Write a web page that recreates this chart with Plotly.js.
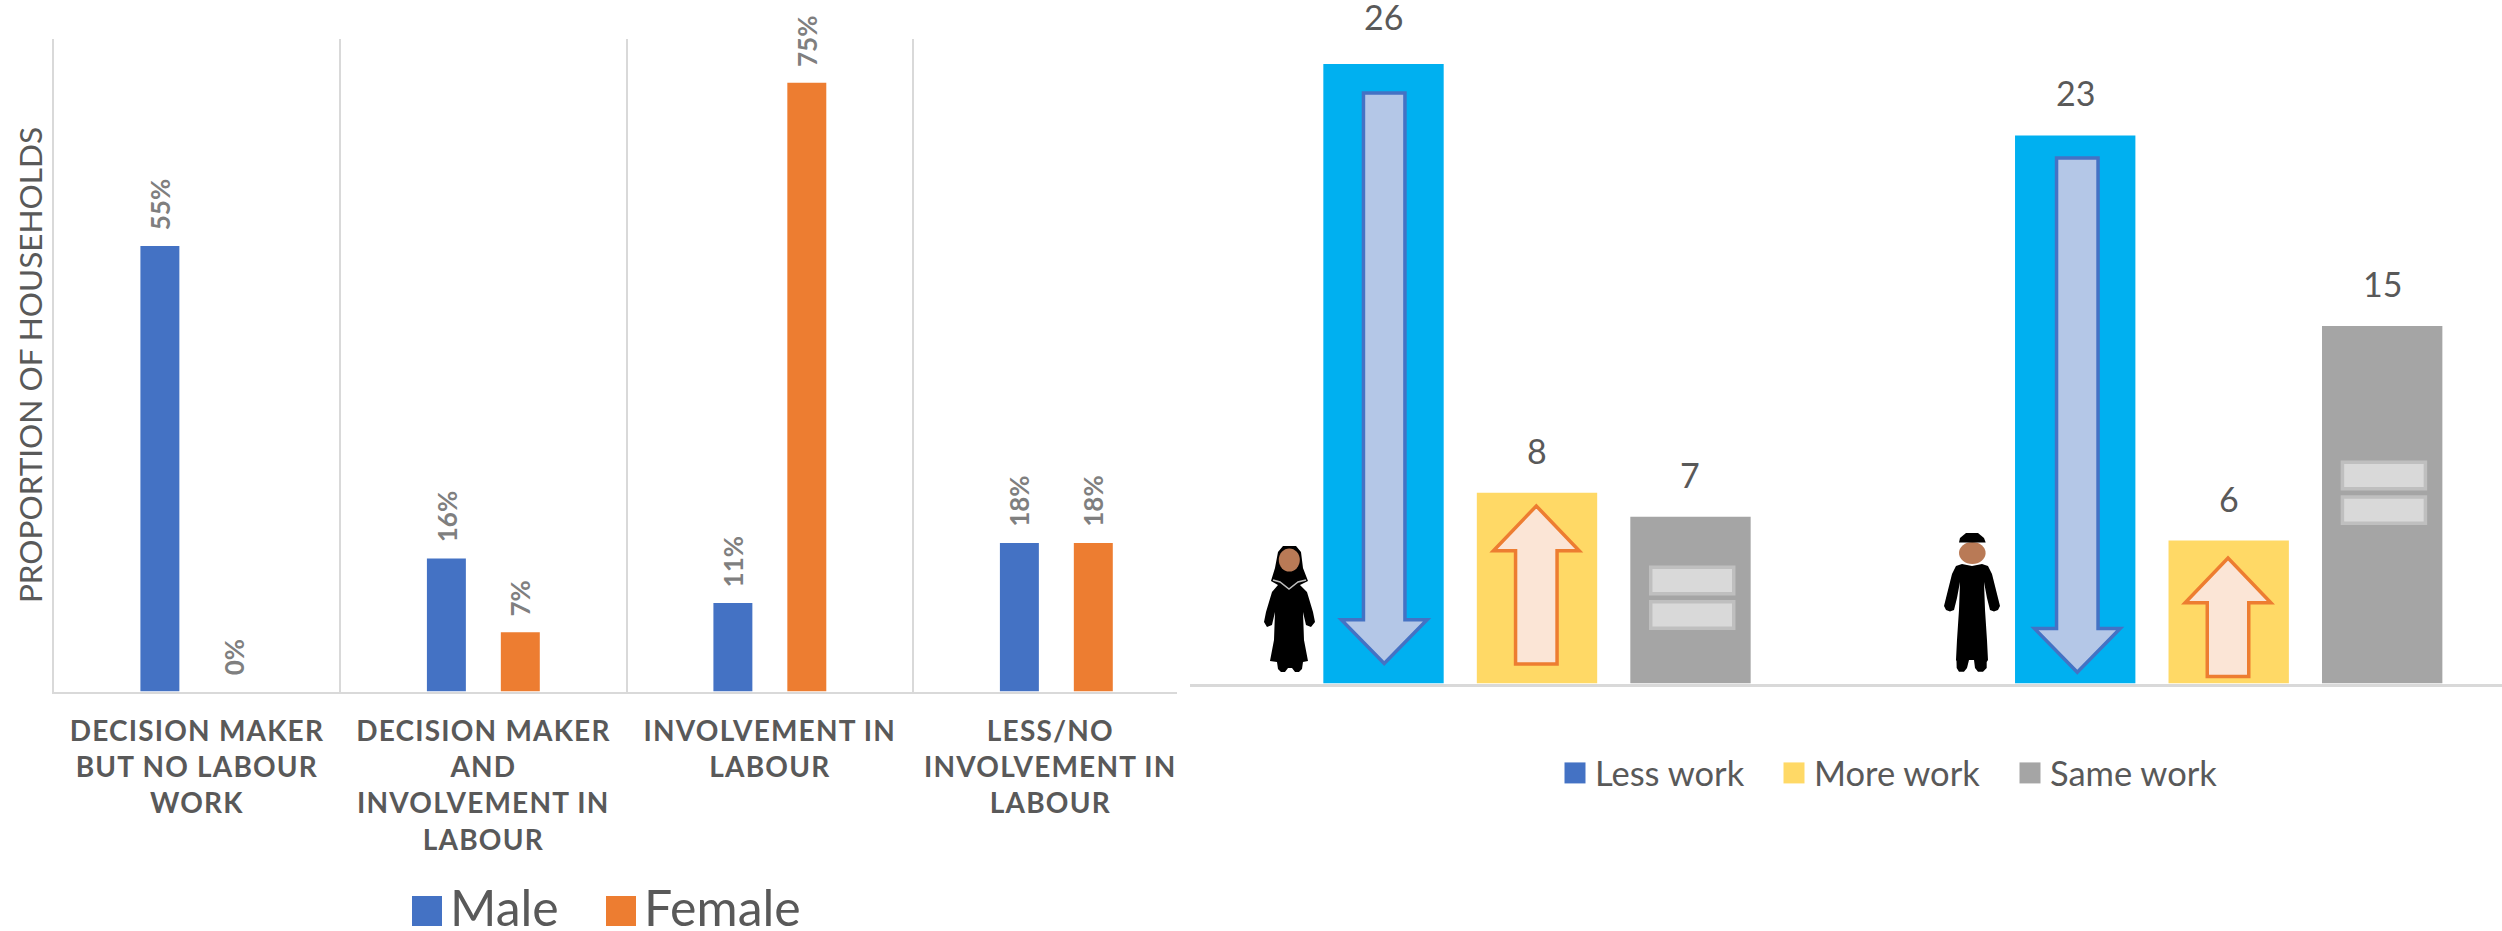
<!DOCTYPE html>
<html>
<head>
<meta charset="utf-8">
<script src="https://cdn.plot.ly/plotly-3.0.1.min.js"></script>
<style>
html,body{margin:0;padding:0;background:#fff;overflow:hidden}
#chart{width:2502px;height:931px}
.xtick text{letter-spacing:1.2px}
</style>
</head>
<body>
<div id="chart"></div>
<script>
// ---- left chart data
const roleCategories = [
  "DECISION MAKER<br>BUT NO LABOUR<br>WORK",
  "DECISION MAKER<br>AND<br>INVOLVEMENT IN<br>LABOUR",
  "INVOLVEMENT IN<br>LABOUR",
  "LESS/NO<br>INVOLVEMENT IN<br>LABOUR"
];
const maleValues = [54.9, 16.4, 10.9, 18.3];
const femaleValues = [0, 7.3, 75, 18.3];
const leftYTitle = "PROPORTION OF HOUSEHOLDS";

// ---- right chart data
const personGroups = ["Women", "Men"];
const lessWork = [26, 23];
const moreWork = [8, 6];
const sameWork = [7, 15];

// ---- styles
const W = 2502, H = 931;
const BLUE = "#4472c4", ORANGE = "#ed7d31", SKY = "#00b0f0", YELLOW = "#ffd966", GREY = "#a5a5a5";
const LINE = "#d9d9d9", TXT = "#595959", LBL = "#7f7f7f";
const FONT = "Lato, 'Open Sans', sans-serif";
const px = (x) => x / W;
const py = (y) => 1 - y / H;

const L = {x0: 53.6, x1: 1177, yb: 691.5, yt: 38.6, catW: 286.5, unit: 8.117};
const R = {x0: 1190, x1: 2502, yb: 683.5, yt: 0, catW: 691.7, unit: 23.83, first: 1537};
const LEFT_OFF = 0.129, RIGHT_OFF = 0.2219;
const LEFT_BAR = 0.136, RIGHT_BAR = 0.174;

const lbar = (name,y,color,off)=>({type:"bar",name,x:roleCategories,y,xaxis:"x",yaxis:"y",marker:{color},legend:"legend",cliponaxis:false,width:LEFT_BAR,offset:off-LEFT_BAR/2});
const rbar = (name,y,color,off)=>({type:"bar",name,x:personGroups,y,xaxis:"x2",yaxis:"y2",marker:{color},legend:"legend2",cliponaxis:false,width:RIGHT_BAR,offset:off-RIGHT_BAR/2});
const traces = [
  lbar("Male",maleValues,BLUE,-LEFT_OFF),
  lbar("Female",femaleValues,ORANGE,LEFT_OFF),
  rbar("Less work",lessWork,SKY,-RIGHT_OFF),
  rbar("More work",moreWork,YELLOW,0),
  rbar("Same work",sameWork,GREY,RIGHT_OFF)
];

const annotations = [];
function leftLabels(vals, off){
  vals.forEach((v,i)=>annotations.push({xref:"x",yref:"y",x:i+off,y:v,yshift:14,text:Math.round(v)+"%",showarrow:false,textangle:-90,
    xanchor:"center",yanchor:"bottom",font:{family:FONT,size:26,color:LBL,weight:700}}));
}
leftLabels(maleValues,-LEFT_OFF);
leftLabels(femaleValues,LEFT_OFF);
function rightLabels(vals, off, extra){
  vals.forEach((v,i)=>annotations.push({xref:"x2",yref:"y2",x:i+off,y:v,yshift:20+(extra?extra[i]:0),text:String(v),showarrow:false,
    xanchor:"center",yanchor:"bottom",font:{family:FONT,size:34,color:TXT}}));
}
rightLabels(lessWork,-RIGHT_OFF,[5,0]);
rightLabels(moreWork,0);
rightLabels(sameWork,RIGHT_OFF);

// ---- decorations on the bars, derived from the bar values
const shapes = [];
function poly(pts){return "M"+pts.map(p=>p.join(",")).join("L")+"Z";}
function downArrow(cx, top, tip){
  const hw=0.062, sw=0.03, hb=tip+1.84;
  shapes.push({type:"path",xref:"x2",yref:"y2",path:poly([[cx-sw,top],[cx+sw,top],[cx+sw,hb],[cx+hw,hb],[cx,tip],[cx-hw,hb],[cx-sw,hb]]),
    fillcolor:"#b4c7e7",line:{color:BLUE,width:3.5}});
}
function upArrow(cx, tip, bottom){
  const hw=0.062, sw=0.03, hb=tip-1.88;
  shapes.push({type:"path",xref:"x2",yref:"y2",path:poly([[cx-sw,bottom],[cx+sw,bottom],[cx+sw,hb],[cx+hw,hb],[cx,tip],[cx-hw,hb],[cx-sw,hb]]),
    fillcolor:"#fbe5d6",line:{color:ORANGE,width:3.5}});
}
function equals(cx, mid){
  const hw=0.06, g=0.17, h=1.11;
  [[mid+g,mid+g+h],[mid-g-h,mid-g]].forEach(([a,b])=>shapes.push({type:"rect",xref:"x2",yref:"y2",x0:cx-hw,x1:cx+hw,y0:a,y1:b,
    fillcolor:"#d9d9d9",line:{color:"#bfbfbf",width:3.5}}));
}
downArrow(-RIGHT_OFF+0.001, lessWork[0]-1.22, 0.84);
downArrow(1-RIGHT_OFF+0.003, lessWork[1]-0.95, 0.47);
upArrow(0-0.001, moreWork[0]-0.55, 0.82);
upArrow(1-0.001, moreWork[1]-0.73, 0.29);
equals(RIGHT_OFF+0.0025, sameWork[0]/2+0.1);
equals(1+RIGHT_OFF+0.0025, sameWork[1]/2+0.5);

// ---- person icons, in page pixels
function pagePath(pts, close){return "M"+pts.map(p=>px(p[0]).toFixed(5)+","+py(p[1]).toFixed(5)).join("L")+(close?"Z":"");}
function pageShape(pts, fill){shapes.push({type:"path",xref:"paper",yref:"paper",path:pagePath(pts,true),fillcolor:fill,line:{width:0}});}
function ell(cx,cy,rx,ry,fill){shapes.push({type:"circle",xref:"paper",yref:"paper",x0:px(cx-rx),x1:px(cx+rx),y0:py(cy+ry),y1:py(cy-ry),fillcolor:fill,line:{width:0}});}
// woman
pageShape([[1278,552],[1283,546],[1296,546],[1301,552],[1303,568],[1308,581],[1300,585],[1307,592],[1313,612],[1315,622],[1311,627],[1306,625],[1303,612],[1304,640],[1308,661],[1303,662],[1302,669],[1299,672],[1295,672],[1292,668],[1288,668],[1285,672],[1281,672],[1278,669],[1277,662],[1270,661],[1274,640],[1275,612],[1272,625],[1267,627],[1264,622],[1266,612],[1272,592],[1278,585],[1271,581],[1275,568]],"#000000");
ell(1289.3,560,10.5,11.5,"#b97a56");
shapes.push({type:"path",xref:"paper",yref:"paper",path:pagePath([[1273,580],[1280,582],[1289,589],[1298,582],[1306,580]],false),line:{color:"#bfbfbf",width:1.5}});
// man
ell(1972.3,553,13.3,11,"#b97a56");
pageShape([[1959,542.5],[1960,538],[1966,533],[1978,533],[1984,538],[1985.7,542.5]],"#000000");
pageShape([[1962,564],[1972,566],[1982,564],[1988,566],[1992,574],[1998,598],[2000,606],[1998,610],[1994,611.5],[1990,610],[1987,598],[1984,582],[1985,610],[1987,640],[1988,660],[1986.7,662],[1986.7,668],[1983,671.7],[1978,671.7],[1975,668],[1974,660],[1969,660],[1967,668],[1964,671.7],[1959,671.7],[1956.7,668],[1956.5,661],[1956,660],[1957,640],[1959,610],[1960,582],[1957,598],[1954,610],[1950,611.5],[1946,610],[1944,606],[1946,598],[1952,574],[1956,566]],"#000000");

const layout = {
  width:W, height:H, margin:{l:0,r:0,t:0,b:0,autoexpand:false}, paper_bgcolor:"#fff", plot_bgcolor:"rgba(0,0,0,0)",
  barmode:"overlay", showlegend:true, hovermode:false,
  font:{family:FONT,color:TXT},
  xaxis:{domain:[px(L.x0),px(L.x1)], range:[-0.5,(L.x1-L.x0)/L.catW-0.5], type:"category", tickson:"boundaries", showgrid:true,
    gridcolor:LINE, gridwidth:2, showline:true, linecolor:LINE, linewidth:2.5, ticks:"", ticklen:0, ticklabelstandoff:13,
    tickfont:{family:FONT,size:28,color:TXT,weight:700}, anchor:"y", automargin:false, tickangle:0},
  yaxis:{domain:[py(L.yb),py(L.yt)], range:[0,(L.yb-L.yt)/L.unit], showgrid:false, zeroline:false, showticklabels:false, showline:true, linecolor:LINE, linewidth:2,
    title:{text:leftYTitle,font:{family:FONT,size:31.5,color:TXT},standoff:0}, anchor:"x", automargin:false},
  xaxis2:{domain:[px(R.x0),px(R.x1)], range:[(R.x0-R.first)/R.catW,(R.x1-R.first)/R.catW], type:"category", showgrid:false, showticklabels:false,
    showline:true, linecolor:LINE, linewidth:3.5, ticks:"", anchor:"y2"},
  yaxis2:{domain:[py(R.yb),1], range:[0,R.yb/R.unit], showgrid:false, zeroline:false, showticklabels:false, showline:false, anchor:"x2"},
  legend:{orientation:"h", x:px(404), xanchor:"left", y:py(906), yanchor:"middle", font:{family:FONT,size:50,color:TXT}, itemwidth:36, entrywidth:165, bgcolor:"rgba(0,0,0,0)", itemclick:false, itemdoubleclick:false},
  legend2:{orientation:"h", x:px(1555), xanchor:"left", y:py(773), yanchor:"middle", font:{family:FONT,size:34.5,color:TXT}, itemwidth:30, entrywidth:190, bgcolor:"rgba(0,0,0,0)", itemclick:false, itemdoubleclick:false},
  annotations, shapes
};
const keyShift = [0, 194];            // legend spacing of the source, left chart
const keyShift2 = [0, 219, 455];      // legend spacing of the source, right chart
Plotly.newPlot("chart",traces,layout,{staticPlot:true,displayModeBar:false}).then(gd=>{
  // larger legend keys as in the source; the "Less work" key keeps the legend's own series colour
  gd.querySelectorAll(".legendpoints path").forEach((p,i)=>{
    const s = i<2?15:10.5, dy = i<2?5:0;
    p.setAttribute("d",`M${s},${s+dy}H${-s}V${-s+dy}H${s}Z`);
    if(i===2) p.style.fill = BLUE;
  });
  const groups = [...gd.querySelectorAll(".legend .traces, .legend2 .traces")];
  const items = groups.length ? groups : [...gd.querySelectorAll("g.traces")].filter(g=>g.querySelector(".legendtext"));
  const read = g => (g.getAttribute("transform")||"").match(/translate\(([-\d.]+)[ ,]*([-\d.]*)/);
  const base = [read(items[0]), read(items[2])];
  items.forEach((g,i)=>{
    const left = i<2, b = base[left?0:1]; if(!b) return;
    const dist = left?keyShift[i]:keyShift2[i-2];
    g.setAttribute("transform",`translate(${parseFloat(b[1])+dist},${parseFloat(b[2]||0)})`);
  });
  const ticks = gd.querySelectorAll(".xtick text");
  if(ticks[3]) ticks[3].setAttribute("transform",(ticks[3].getAttribute("transform")||"")+" translate(-6,0)");
});
</script>
</body>
</html>
